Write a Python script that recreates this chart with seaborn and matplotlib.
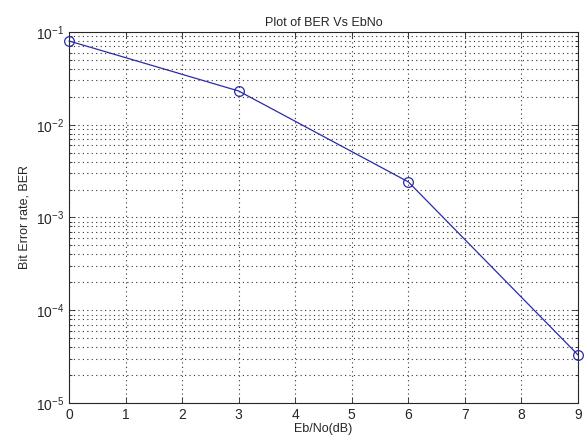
import pandas as pd
import numpy as np
import matplotlib
matplotlib.use("Agg")
import matplotlib.pyplot as plt
import matplotlib.ticker as mticker
import seaborn as sns

# Eb/No points (dB) and simulated bit error rate
ebno_db = [0, 3, 6, 9]
ber = [0.080, 0.0231, 0.00242, 3.3e-5]

df = pd.DataFrame({"EbNo": ebno_db, "BER": ber})

sns.set_style("ticks")
plt.rcParams["font.family"] = ["Liberation Sans", "DejaVu Sans"]
plt.rcParams["xtick.direction"] = "in"
plt.rcParams["ytick.direction"] = "in"

fig = plt.figure(figsize=(5.87, 4.44), dpi=100)
ax = fig.add_axes([0.1175, 0.0923, 0.8672, 0.8357])

sns.lineplot(data=df, x="EbNo", y="BER", ax=ax, color="#2b2ba6", linewidth=0.9,
             marker="o", markersize=7, markerfacecolor="none",
             markeredgecolor="#2b2ba6", markeredgewidth=0.9, clip_on=False, zorder=5)

ax.set_yscale("log")
ax.set_xlim(0, 9)
ax.set_ylim(1e-5, 1e-1)
ax.set_xticks(range(0, 10))
ax.yaxis.set_major_locator(mticker.LogLocator(base=10, numticks=10))
ax.yaxis.set_minor_locator(mticker.LogLocator(base=10, subs=np.arange(2, 10), numticks=10))
ax.yaxis.set_minor_formatter(mticker.NullFormatter())

dots = (0, (1, 3))
ax.grid(True, which="major", linestyle=dots, color="#333333", linewidth=0.8)
ax.grid(True, which="minor", axis="y", linestyle=dots, color="#333333", linewidth=0.8)

for side in ["top", "right", "left", "bottom"]:
    ax.spines[side].set_visible(True)
    ax.spines[side].set_linewidth(0.8)
ax.tick_params(which="both", top=True, right=True, labelsize=10, length=4, width=0.6)
ax.tick_params(which="minor", length=2)

ax.set_title("Plot of BER Vs EbNo", fontsize=9, pad=4)
ax.set_xlabel("Eb/No(dB)", fontsize=9, labelpad=1)
ax.set_ylabel("Bit Error rate, BER", fontsize=9, labelpad=4)

plt.savefig("out.png", dpi=100)
